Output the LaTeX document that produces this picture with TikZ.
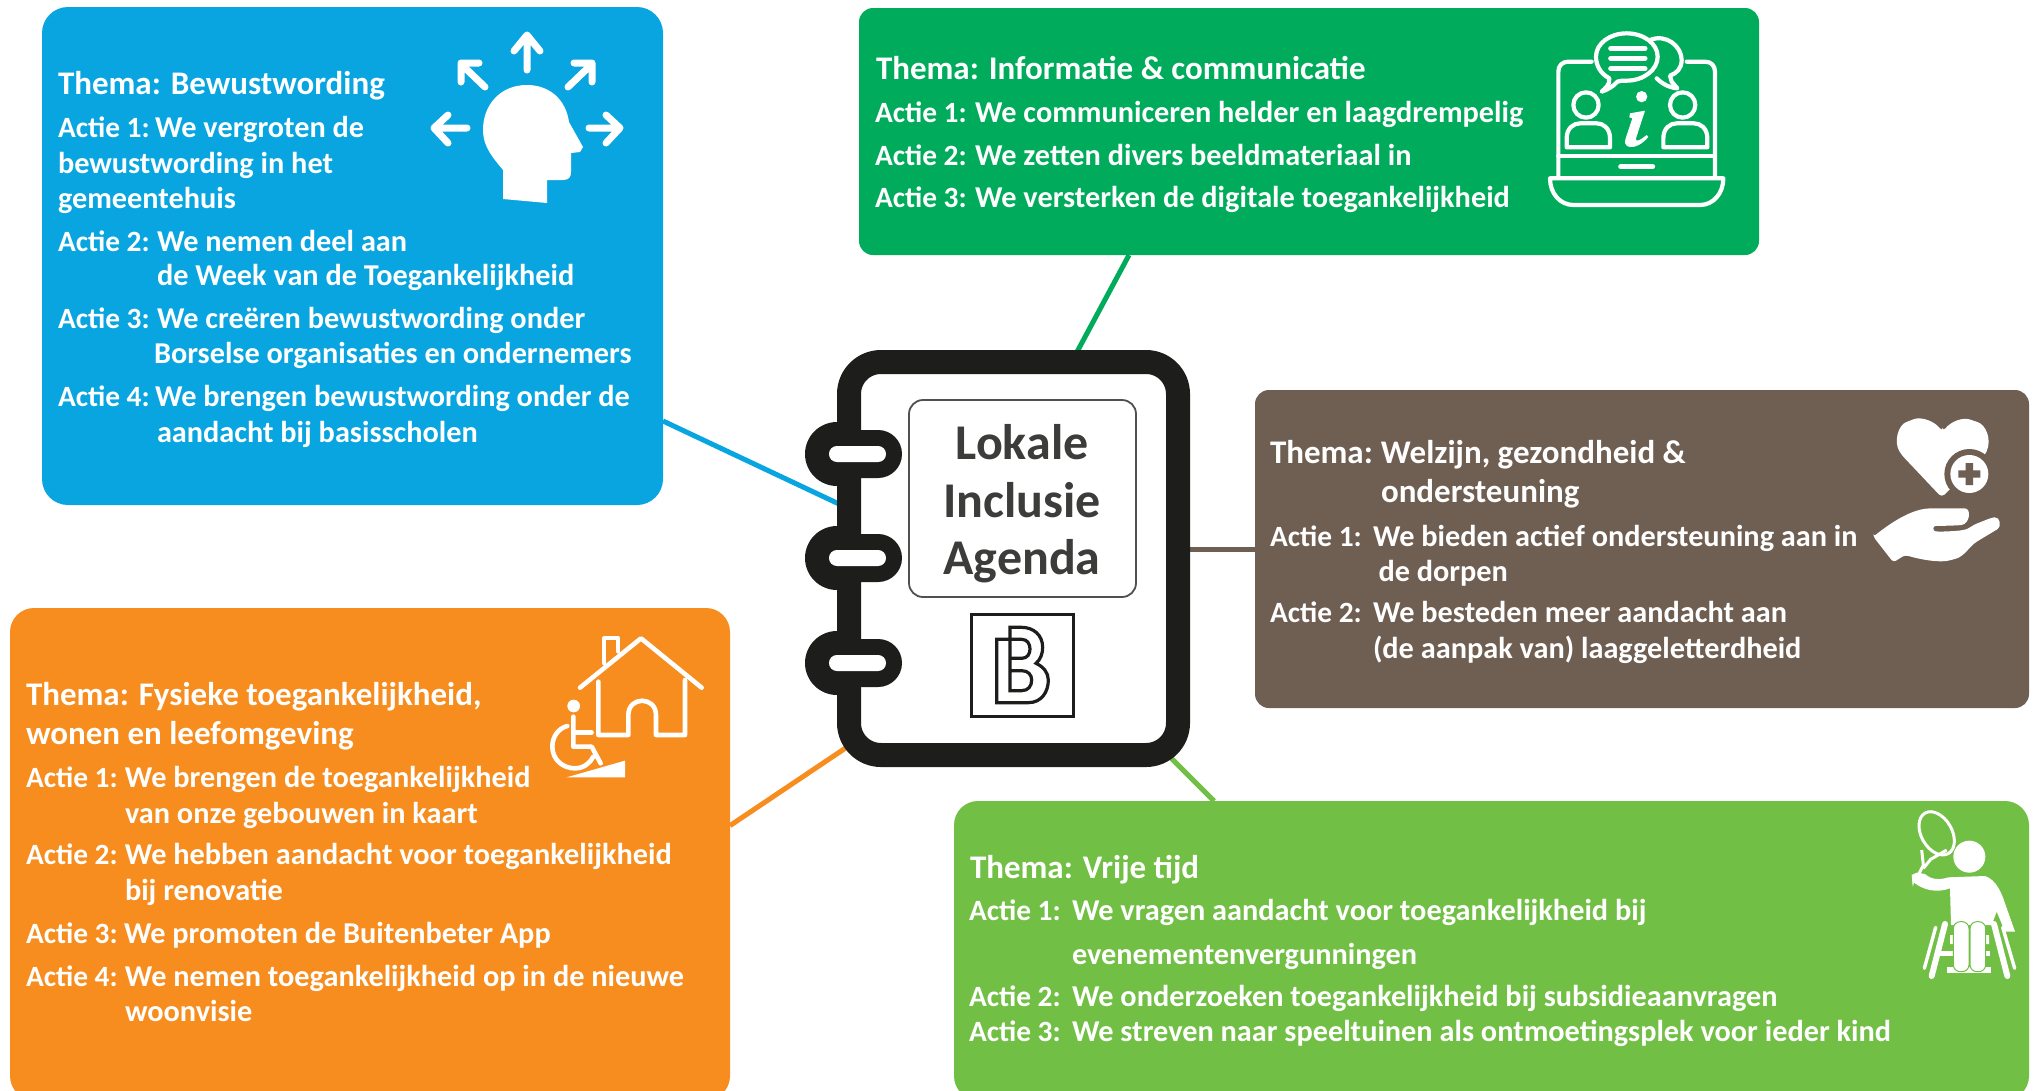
\documentclass[tikz,border=0pt]{standalone}
\usepackage{fontspec}
\setmainfont{Carlito}
\usetikzlibrary{calc}
\pgfdeclarelayer{bg}
\pgfsetlayers{bg,main}
\definecolor{cblue}{HTML}{08A5E0}
\definecolor{cgreen}{HTML}{00AC5B}
\definecolor{cbrown}{HTML}{6F5E52}
\definecolor{corange}{HTML}{F68D1E}
\definecolor{clime}{HTML}{71BF44}
\definecolor{cink}{HTML}{1D1D1B}
\definecolor{cgrey}{HTML}{3C3C3B}
\tikzset{
  panel/.style={inner sep=0,outer sep=0,draw=none},
  txt/.style={anchor=base west,inner sep=0,outer sep=0,text=white,font=\fontsize{30.3}{30}\selectfont\bfseries},
  ttl/.style={txt,font=\fontsize{33}{32}\selectfont\bfseries},
  conn/.style={line width=5pt},
  iconline/.style={draw=white,line cap=round,line join=round},
  centre/.style={anchor=base,inner sep=0,outer sep=0,text=cgrey,font=\fontsize{50}{50}\selectfont\bfseries}
}
\newcommand{\panelnode}[7]{\node[panel,fill=#6,rounded corners=#7pt,minimum width={#4-#2},minimum height={#5-#3}] (#1) at ({(#2+#4)/2},{(#3+#5)/2}) {};}
\newcommand{\tl}[4]{\node[txt] (#1) at (#2,#3) {#4};}
\newcommand{\thl}[4]{\node[ttl] (#1) at (#2,#3) {#4};}
\newcommand{\acl}[6]{\node[txt] (#1) at (#2,#3) {\makebox[#4pt][l]{\fontsize{29.4}{30}\selectfont #5}#6};}
\begin{document}
\begin{tikzpicture}[x=1pt,y=-1pt]
\useasboundingbox (0,0) rectangle (2035,1090);
\clip (0,0) rectangle (2035,1090);
% panels
\panelnode{blue}{42}{7}{663}{505}{cblue}{26}
\panelnode{green}{859}{8}{1759}{255}{cgreen}{14}
\panelnode{brown}{1255}{390}{2029}{708}{cbrown}{14}
\panelnode{orange}{10}{608}{730}{1100}{corange}{24}
\panelnode{lime}{954}{801}{2029}{1100}{clime}{24}
% notebook
\node[panel,draw=cink,fill=white,line width=24pt,rounded corners=32pt,minimum width=329,minimum height=393] (book) at (1013.5,558.5) {};
% connectors
\begin{pgfonlayer}{bg}
\draw[conn,cblue] ($(blue.east)+(0,165)$) -- ($(book.west)+(0,-49.8)$);
\draw[conn,cgreen] ($(green.south)+(-180,0)$) -- ($(book.north)+(58.1,0)$);
\draw[conn,cbrown] (brown.west) -- ($(book.east)+(0,-9.5)$);
\draw[conn,corange] ($(orange.east)+(0,-28.4)$) -- ($(book.west)+(0,187.2)$);
\draw[conn,clime] ($(lime.north)+(-277.5,0)$) -- ($(book.south)+(154.5,0)$);
\end{pgfonlayer}
% rings
\foreach \r/\cy in {a/454,b/558,c/663}{
  \fill[cink] (837,\cy) circle[radius=32];
  \fill[cink,rounded corners=23.9pt] (837,\cy-24) rectangle (902,\cy+24);
  \fill[white,rounded corners=7.9pt] (829,\cy-8) rectangle (886,\cy+8);
}
% title plate
\node[panel,draw=cgrey!90,line width=1.8pt,rounded corners=14pt,fill=white,minimum width=227,minimum height=197] (plate) at (1022.5,498.5) {};
\node[centre] (lok) at (1022,459) {Lokale};
\node[centre] (inc) at (1022,517) {Inclusie};
\node[centre] (age) at (1022,574) {Agenda};
% logo
\node[panel,draw=cink,line width=3.5pt,minimum width=102,minimum height=102] (logo) at (1022.5,665.5) {};
\begin{scope}[shift={(780,330)},scale=1/3,draw=cink,line width=3.2pt,line join=miter]
\draw (690,928) -- (650,928) -- (650,1118) -- (745,1118) .. controls (785,1118) and (805,1085) .. (805,1050) .. controls (805,1028) and (790,1010) .. (768,1000) .. controls (782,988) and (788,970) .. (788,952) .. controls (788,915) and (760,892) .. (725,892) -- (690,892) -- (690,1082) -- (725,1082) .. controls (745,1082) and (755,1068) .. (755,1050) .. controls (755,1035) and (745,1022) .. (725,1022) -- (690,1022);
\draw (690,985) -- (725,985) .. controls (742,985) and (750,972) .. (750,957) .. controls (750,942) and (742,928) .. (725,928) -- (690,928);
\end{scope}
% blue text
\thl{t11}{58}{94}{Thema: Bewustwording}
\acl{t12}{58}{137}{97}{Actie 1:}{We vergroten de}
\tl{t13}{58}{173}{bewustwording in het}
\tl{t14}{58}{208}{gemeentehuis}
\acl{t15}{58}{251}{99}{Actie 2:}{We nemen deel aan}
\tl{t16}{157}{285}{de Week van de Toegankelijkheid}
\acl{t17}{58}{328}{99}{Actie 3:}{We creëren bewustwording onder}
\tl{t18}{154}{363}{Borselse organisaties en ondernemers}
\acl{t19}{58}{406}{97}{Actie 4:}{We brengen bewustwording onder de}
\tl{t110}{157}{442}{aandacht bij basisscholen}
% green text
\thl{t21}{876}{79}{Thema: Informatie \& communicatie}
\acl{t22}{875}{122}{100}{Actie 1:}{We communiceren helder en laagdrempelig}
\acl{t23}{875}{165}{100}{Actie 2:}{We zetten divers beeldmateriaal in}
\acl{t24}{875}{207}{100}{Actie 3:}{We versterken de digitale toegankelijkheid}
% brown text
\acl{t31}{1270}{463}{111}{\fontsize{33}{32}\selectfont Thema:}{\fontsize{33}{32}\selectfont Welzijn, gezondheid \&}
\thl{t32}{1381}{502}{ondersteuning}
\acl{t33}{1270}{546}{103}{Actie 1:}{We bieden actief ondersteuning aan in}
\tl{t34}{1378.5}{581}{de dorpen}
\acl{t35}{1270}{622}{103}{Actie 2:}{We besteden meer aandacht aan}
\tl{t36}{1373}{658}{(de aanpak van) laaggeletterdheid}
% orange text
\thl{t41}{26}{705}{Thema: Fysieke toegankelijkheid,}
\thl{t42}{26}{744}{wonen en leefomgeving}
\acl{t43}{26}{787}{99}{Actie 1:}{We brengen de toegankelijkheid}
\tl{t44}{125}{823}{van onze gebouwen in kaart}
\acl{t45}{26}{864}{99}{Actie 2:}{We hebben aandacht voor toegankelijkheid}
\tl{t46}{125}{900}{bij renovatie}
\acl{t47}{26}{943}{98}{Actie 3:}{We promoten de Buitenbeter App}
\acl{t48}{26}{986}{99}{Actie 4:}{We nemen toegankelijkheid op in de nieuwe}
\tl{t49}{125}{1021}{woonvisie}
% lime text
\thl{t51}{970}{878}{Thema: Vrije tijd}
\acl{t52}{969}{920}{103}{Actie 1:}{We vragen aandacht voor toegankelijkheid bij}
\tl{t53}{1072}{964}{evenementenvergunningen}
\acl{t54}{969}{1006}{103}{Actie 2:}{We onderzoeken toegankelijkheid bij subsidieaanvragen}
\acl{t55}{969}{1041}{103}{Actie 3:}{We streven naar speeltuinen als ontmoetingsplek voor ieder kind}
% blue icon: head with arrows
\fill[white] (527,85) .. controls (500,85) and (483,105) .. (483,130) .. controls (483,148) and (495,160) .. (503,170) -- (503,199) -- (547,203) -- (547,180) -- (563,180) .. controls (569,180) and (571,177) .. (571,172) -- (571,153) -- (580,152) -- (583,147) -- (569,122) .. controls (566,100) and (550,85) .. (527,85) -- cycle;
\begin{scope}[iconline,line width=7pt]
\draw (527,70) -- (527,37) (514,51) -- (527,35) -- (540,51);
\draw (485,87) -- (461,64) (479,63) -- (461,63) -- (461,82);
\draw (568,87) -- (592,64) (574,63) -- (592,63) -- (592,82);
\draw (467,128) -- (435,128) (448,115) -- (434,128) -- (448,143);
\draw (589,128) -- (618,128) (606,115) -- (620,128) -- (606,143);
\end{scope}
% green icon: laptop
\begin{scope}[shift={(1500,10)},scale=1/3,iconline,line width=4.2pt]
\draw (275,155) -- (205,155) .. controls (187,155) and (175,167) .. (175,185) -- (175,500);
\draw (560,155) -- (615,155) .. controls (633,155) and (645,167) .. (645,185) -- (645,500);
\draw (175,438) -- (645,438);
\draw[line width=5pt] (362,470) -- (458,470);
\draw (150,505) -- (670,505) .. controls (670,550) and (640,585) .. (600,585) -- (220,585) .. controls (180,585) and (150,550) .. (150,505) -- cycle;
\draw (305,245) .. controls (315,235) and (330,225) .. (328,205) .. controls (300,190) and (288,165) .. (288,140) .. controls (288,100) and (330,70) .. (380,70) .. controls (430,70) and (473,100) .. (473,140) .. controls (473,180) and (430,212) .. (380,212) .. controls (365,212) and (360,212) .. (352,215) .. controls (340,230) and (320,240) .. (305,245) -- cycle;
\draw (450,90) .. controls (500,70) and (545,110) .. (545,150) .. controls (545,175) and (530,190) .. (510,197) -- (515,215) -- (532,235) .. controls (500,232) and (480,215) .. (470,205);
\draw[line width=5pt] (332,115) -- (435,115) (332,145) -- (435,145) (332,176) -- (435,176);
\draw (258,285) circle[radius=38] (548,285) circle[radius=38];
\draw (200,412) -- (200,385) .. controls (200,355) and (220,340) .. (240,340) -- (290,340) .. controls (310,340) and (330,355) .. (330,385) -- (330,412) -- cycle;
\draw (490,412) -- (490,385) .. controls (490,355) and (510,340) .. (530,340) -- (582,340) .. controls (602,340) and (622,355) .. (622,385) -- (622,412) -- cycle;
\fill[white,draw=none] (425,260) circle[radius=17];
\fill[white,draw=none] (390,310) -- (435,302) -- (408,385) .. controls (406,395) and (414,396) .. (440,375) -- (445,381) .. controls (425,405) and (400,415) .. (385,410) .. controls (375,405) and (373,398) .. (377,385) -- (397,325) -- (388,322) -- cycle;
\end{scope}
% brown icon: heart and hand
\begin{scope}[shift={(1830,400)},scale=1/3]
\fill[white,rounded corners=4pt] (338,95) .. controls (310,60) and (270,50) .. (240,62) .. controls (205,75) and (190,125) .. (215,165) -- (335,292) -- (440,190) -- (465,165) .. controls (485,120) and (470,75) .. (430,62) .. controls (400,52) and (365,62) .. (338,95) -- cycle;
\fill[cbrown] (418,222) circle[radius=75];
\fill[white] (418,222) circle[radius=57];
\fill[cbrown] (407,189) rectangle (429,255) (385,211) rectangle (451,233);
\fill[white,rounded corners=3pt] (130,410) -- (190,487) -- (225,465) .. controls (270,478) and (330,490) .. (370,478) .. controls (400,470) and (420,440) .. (440,425) -- (495,392) .. controls (515,380) and (510,350) .. (485,353) -- (430,375) .. controls (410,390) and (395,393) .. (325,395) .. controls (308,393) and (308,378) .. (325,378) -- (385,376) .. controls (420,372) and (425,325) .. (395,325) -- (300,325) .. controls (240,330) and (180,370) .. (130,410) -- cycle;
\end{scope}
% orange icon: house and wheelchair
\begin{scope}[shift={(530,620)},scale=1/3,iconline]
\draw[line width=4.6pt] (150,203) -- (333,55) -- (515,203);
\draw[line width=4pt] (222,130) -- (222,55) -- (265,55) -- (265,95);
\draw[line width=4.6pt] (205,185) -- (205,345) -- (295,345) -- (295,285) .. controls (295,228) and (378,228) .. (378,285) -- (378,345) -- (465,345) -- (465,180);
\fill[white,draw=none] (131,258) circle[radius=19];
\draw[line width=4.6pt] (130,290) -- (130,380) -- (185,380) -- (212,430);
\draw[line width=4.4pt] (130,338) -- (185,338);
\draw[line width=4.6pt] (112,318) .. controls (85,325) and (67,350) .. (67,380) .. controls (67,420) and (100,445) .. (135,445) .. controls (160,445) and (180,430) .. (190,410);
\fill[white,draw=none] (110,472) -- (285,422) -- (285,472) -- cycle;
\end{scope}
% lime icon: wheelchair tennis
\begin{scope}[shift={(1890,800)},scale=1/3]
\draw[white,line width=3pt,rotate around={30:(140,100)}] (140,100) ellipse[x radius=46,y radius=70];
\draw[white,line width=3pt,line join=round] (95,150) -- (100,195) -- (85,225) (170,150) -- (122,178) -- (100,205);
\fill[white] (238,170) circle[radius=48];
\fill[white] (65,225) -- (80,218) -- (105,222) .. controls (125,240) and (150,240) .. (175,232) -- (285,228) .. controls (320,240) and (335,280) .. (345,310) -- (375,395) -- (345,395) -- (320,335) -- (305,375) -- (183,375) -- (180,265) .. controls (140,280) and (100,270) .. (72,248) -- (68,260) -- cycle;
\fill[white] (180,405) rectangle (192,432) (285,405) rectangle (297,432) (235,400) rectangle (243,432);
\draw[white,line width=4.4pt] (148,460) -- (300,460);
\draw[white,line width=6pt,line cap=round] (165,372) -- (125,528) (312,372) -- (352,528);
\draw[white,line width=3.4pt,line cap=round] (137,382) -- (103,505) (338,382) -- (374,505);
\fill[white] (172,502) rectangle (302,520);
\fill[white,draw=clime,line width=1pt,rounded corners=6.9pt] (190,365) rectangle (237,515) (240,365) rectangle (287,515);
\end{scope}
\end{tikzpicture}
\end{document}
